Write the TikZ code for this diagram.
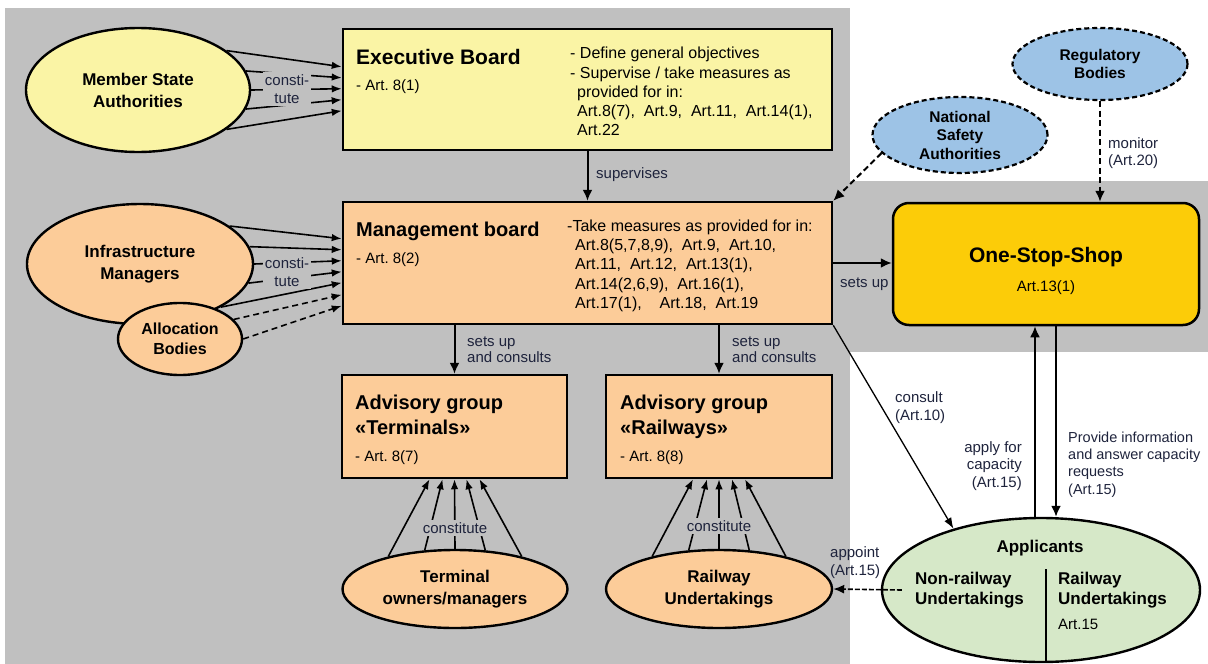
\documentclass[tikz,border=0pt]{standalone}
\usepackage{fontspec}
\setmainfont{Liberation Sans}
\usetikzlibrary{shapes.geometric,arrows.meta,calc}
\definecolor{bgc}{RGB}{192,192,192}
\definecolor{ebc}{RGB}{250,244,165}
\definecolor{pch}{RGB}{252,204,153}
\definecolor{ossc}{RGB}{252,204,8}
\definecolor{blu}{RGB}{157,195,230}
\definecolor{grn}{RGB}{214,232,200}
\definecolor{lbl}{RGB}{30,35,60}
\newcommand\myfs[2]{\fontsize{#1}{#2}\selectfont}
\begin{document}
\begin{tikzpicture}[x=1pt,y=-1pt,
  box/.style={draw=black,line width=2.5pt,rectangle,inner sep=0pt,anchor=center},
  ell/.style={draw=black,line width=2.4pt,ellipse,inner sep=0pt,align=center,font=\bfseries\myfs{17}{22}},
  dell/.style={ell,fill=blu,line width=2.2pt,dash pattern=on 5pt off 3pt,font=\bfseries\myfs{15.5}{18.5}},
  arr/.style={line width=2pt,-{Latex[length=11pt,width=10pt]}},
  darr/.style={arr,dash pattern=on 6pt off 3.5pt},
  fan/.style={line width=1.6pt,-{Latex[length=10pt,width=7.5pt]}},
  dfan/.style={fan,dash pattern=on 6pt off 4pt},
  lab/.style={font=\myfs{15}{17},text=lbl,inner sep=0pt,align=left},
  ttl/.style={font=\bfseries\myfs{20}{25},inner sep=0pt,align=left,anchor=north west},
  txt/.style={font=\myfs{16}{19.25},inner sep=0pt,align=left,anchor=north west},
  sml/.style={font=\myfs{15}{18},inner sep=0pt,anchor=base west},
]
\useasboundingbox (0,0) rectangle (1208,664);
\fill[bgc] (5,8) rectangle (850,664);
\fill[bgc] (850,181) rectangle (1208,352);

% boxes
\node[box,fill=ebc,minimum width=489pt,minimum height=121pt] (eb) at (587.5,89.5) {};
\node[box,fill=pch,minimum width=489pt,minimum height=122pt] (mb) at (587.5,263) {};
\node[box,fill=pch,minimum width=225pt,minimum height=103pt] (at) at (454.5,426.5) {};
\node[box,fill=pch,minimum width=226pt,minimum height=103pt] (ar) at (719,426.5) {};
\node[box,fill=ossc,rounded corners=16pt,minimum width=306pt,minimum height=122pt] (oss) at (1046,264) {};

% ellipses
\node[ell,fill=ebc,minimum width=224pt,minimum height=124pt] (msa) at (138,90) {Member State\\Authorities};
\node[ell,fill=pch,minimum width=226pt,minimum height=120pt] (im) at (140,264) {Infrastructure\\Managers};
\node[ell,fill=pch,minimum width=124pt,minimum height=72pt,font=\bfseries\myfs{16}{20}] (ab) at (180,339) {Allocation\\Bodies};
\node[ell,fill=pch,minimum width=225pt,minimum height=78pt] (to) at (455,589) {Terminal\\owners/managers};
\node[ell,fill=pch,minimum width=226pt,minimum height=78pt] (ru) at (719,589) {Railway\\Undertakings};
\node[dell,minimum width=175pt,minimum height=76pt] (nsa) at (960,135) {National\\Safety\\Authorities};
\node[dell,minimum width=175pt,minimum height=72pt] (rb) at (1100,64) {Regulatory\\Bodies};
\node[ell,fill=grn,minimum width=318pt,minimum height=144pt] (app) at (1041,590) {};

% box texts
\node[anchor=base west,font=\bfseries\myfs{21}{25},inner sep=0pt] (ebt) at (356,64.5) {Executive Board};
\node[sml] (eba) at (356,90.5) {- Art.\ 8(1)};
\node[txt] (ebr) at (570,47) {- Define general objectives\\- Supervise / take measures as\\\hspace*{7pt}provided for in:\\\hspace*{7pt}Art.8(7),\ \ Art.9,\ \ Art.11,\ \ Art.14(1),\\\hspace*{7pt}Art.22};

\node[anchor=base west,font=\bfseries\myfs{20}{25},inner sep=0pt] (mbt) at (356,236) {Management board};
\node[sml] (mba) at (356,263.5) {- Art.\ 8(2)};
\node[txt] (mbr) at (567,219.5) {-Take measures as provided for in:\\\hspace*{8pt}Art.8(5,7,8,9),\ \ Art.9,\ \ Art.10,\\\hspace*{8pt}Art.11,\ \ Art.12,\ \ Art.13(1),\\\hspace*{8pt}Art.14(2,6,9),\ \ Art.16(1),\\\hspace*{8pt}Art.17(1),\ \ \ \ Art.18,\ \ Art.19};

\node[ttl] (att) at (355,394.5) {Advisory group\\«Terminals»};
\node[sml] (ata) at (355,461.5) {- Art.\ 8(7)};
\node[ttl] (art) at (620,394.5) {Advisory group\\«Railways»};
\node[sml] (ara) at (620,461.5) {- Art.\ 8(8)};

\node[anchor=base,font=\bfseries\myfs{21}{25},inner sep=0pt] (osst) at (1046,262.5) {One-Stop-Shop};
\node[anchor=base,font=\myfs{15}{18},inner sep=0pt] (ossa) at (1046,291.5) {Art.13(1)};

% applicants
\draw[line width=2pt] ($(app.south)+(5,-94)$) -- ($(app.south)+(5,0)$);
\node[anchor=base,font=\bfseries\myfs{17}{20},inner sep=0pt] (appt) at (1040,552) {Applicants};
\node[anchor=north west,align=left,font=\bfseries\myfs{17}{20},inner sep=0pt] (nru) at (915,572) {Non-railway\\Undertakings};
\node[anchor=north west,align=left,font=\bfseries\myfs{17}{20},inner sep=0pt] (rwu) at (1058,572) {Railway\\Undertakings};
\node[sml] (rwa) at (1058,629.5) {Art.15};

% fans into Executive Board
\draw[fan] (msa.24)  -- ($(eb.north west)+(0,39)$);
\draw[fan] (msa.10)  -- ($(eb.north west)+(0,50)$);
\draw[fan] (msa.0)   -- ($(eb.north west)+(0,61)$);
\draw[fan] (msa.-10) -- ($(eb.north west)+(0,72)$);
\draw[fan] (msa.-24) -- ($(eb.north west)+(0,83)$);
% fans into Management board
\draw[fan] (im.23)  -- ($(mb.north west)+(0,38)$);
\draw[fan] (im.9)   -- ($(mb.north west)+(0,49)$);
\draw[fan] (im.0)   -- ($(mb.north west)+(0,60)$);
\draw[fan] (im.-10) -- ($(mb.north west)+(0,71)$);
\draw[fan] (im.-28) -- ($(mb.north west)+(0,82)$);
\draw[dfan] (ab.20) -- ($(mb.north west)+(0,94)$);
\draw[dfan] (ab.0)  -- ($(mb.north west)+(0,105)$);
% fans into advisory groups
\draw[fan] (to.154) -- ($(at.south)+(-25,0)$);
\draw[fan] (to.128) -- ($(at.south)+(-12,0)$);
\draw[fan] (to.90)  -- (at.south);
\draw[fan] (to.52)  -- ($(at.south)+(12,0)$);
\draw[fan] (to.26)  -- ($(at.south)+(25,0)$);
\draw[fan] (ru.154) -- ($(ar.south)+(-26,0)$);
\draw[fan] (ru.128) -- ($(ar.south)+(-12,0)$);
\draw[fan] (ru.90)  -- (ar.south);
\draw[fan] (ru.52)  -- ($(ar.south)+(13,0)$);
\draw[fan] (ru.26)  -- ($(ar.south)+(26,0)$);

% main connectors
\draw[arr] (eb.south) -- (mb.north);
\draw[arr] (at.north |- mb.south) -- (at.north);
\draw[arr] (ar.north |- mb.south) -- (ar.north);
\draw[arr] (mb.east) -- (mb.east -| oss.west);
\draw[darr] (nsa.193) -- (mb.north east);
\draw[darr] (rb.south) -- (rb.south |- oss.north);
\draw[arr] ($(app.north)+(-6,0)$) -- ($(oss.south)+(-11,0)$);
\draw[arr] ($(oss.south)+(10,0)$) -- ($(app.north)+(15,0)$);
\draw[line width=1.3pt,-{Latex[length=11pt,width=8pt]}] (mb.south east) -- (app.145);
\draw[line width=1.6pt,dash pattern=on 5pt off 2pt,-{Latex[length=11pt,width=9pt]}] ($(app.west)+(21,0)$) -- (ru.east);

% labels
\node[lab,fill=bgc,align=center,inner sep=2pt,font=\myfs{15}{18}] (lc1) at (287,89) {consti-\\tute};
\node[lab,fill=bgc,align=center,inner sep=2pt,font=\myfs{15}{18}] (lc2) at (287,272) {consti-\\tute};
\node[lab,fill=bgc,inner sep=2pt] (lc3) at (455,528) {constitute};
\node[lab,fill=bgc,inner sep=2pt] (lc4) at (719,526) {constitute};
\node[lab,anchor=base west] (lsup) at (596,178.5) {supervises};
\node[lab,anchor=north west,font=\myfs{15}{16}] (lsu1) at (467,337) {sets up\\and consults};
\node[lab,anchor=north west,font=\myfs{15}{16}] (lsu2) at (732,337) {sets up\\and consults};
\node[lab,anchor=base west] (lsu3) at (840,287) {sets up};
\node[lab,anchor=north west,font=\myfs{15}{17.5}] (lmon) at (1108,137) {monitor\\(Art.20)};
\node[lab,anchor=north west,font=\myfs{15}{18}] (lcon) at (895,391) {consult\\(Art.10)};
\node[lab,anchor=north east,align=right,font=\myfs{15}{17.5}] (lapf) at (1022,441) {apply for\\capacity\\(Art.15)};
\node[lab,anchor=north west,font=\myfs{14.5}{17.3}] (lpro) at (1068,431.5) {Provide information\\and answer capacity\\requests\\(Art.15)};
\node[lab,anchor=north west,font=\myfs{15}{18}] (lapt) at (830,546.5) {appoint\\(Art.15)};
\end{tikzpicture}
\end{document}
